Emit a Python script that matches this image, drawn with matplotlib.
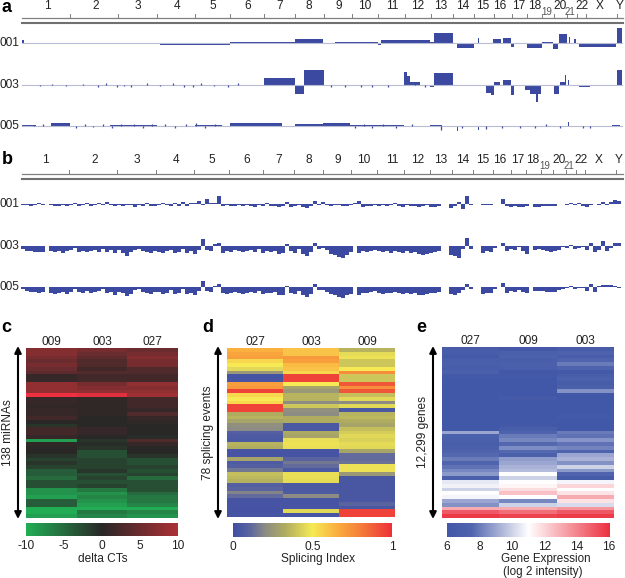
import numpy as np
from matplotlib import pyplot as plt
from matplotlib.colors import LinearSegmentedColormap

plt.rcParams['font.family'] = ['Liberation Sans', 'DejaVu Sans']

W, H = 625, 578

chroms = ['1', '2', '3', '4', '5', '6', '7', '8', '9', '10', '11', '12', '13', '14', '15', '16',
          '17', '18', '19', '20', '21', '22', 'X', 'Y']
chrom_ends = [70, 118, 157, 195, 230, 264, 295, 324, 352, 378, 405, 431, 453, 474, 494, 512,
              527, 542, 554, 567, 577, 586, 617]

# panel a, copy number segments
a001_edges = [22, 24, 26, 50, 70, 118, 130, 157, 160, 195, 222, 230, 264, 295, 323, 335, 352, 378, 381, 430,
              434, 453, 457, 474, 478, 479, 483, 493, 501, 503, 511, 514, 527, 542, 553, 558, 559, 567,
              569, 570, 574, 576, 579, 590, 616, 617, 622]
a001_vals = [3, -1, -1, -1, -1, -1, -1.3, -1, -1.7, -1.5, -2, 1, 1, 4, -1, 1.5, 1, -1.5, 3, 1,
             10, 0, -5, 0, 5, 0.5, 0.5, 4, 0, 5, -4, -1, -5, 1, -6, 0, 9, 0,
             6, 0, 4, 0, -4, -4, 0, 15]
a003_edges = [22, 30, 70, 110, 157, 195, 230, 250, 264, 295, 304, 324, 352, 378, 404, 407, 410, 420, 430, 434,
              453, 480, 486, 491, 494, 500, 503, 511, 514, 525, 530, 536, 538, 541, 554, 559, 560, 565, 566,
              568, 569, 579, 590, 610, 617, 622]
a003_vals = [-1, 0.5, -0.4, 0.5, -0.6, -0.6, 0.3, -0.8, 7, -9, 15, -0.6, -0.8, -0.7, 13, 9, 3, -0.6, -1.5, 12,
             -0.5, 0.5, -8, -10, 3, 0, 5, -10, -0.5, -5, -9, -17, -9, -1, -9, 0, 3, 10, 0,
             5, 0, -1.5, -0.6, -1, 15]
a005_edges = [22, 36, 51, 70, 110, 157, 195, 222, 230, 265, 282, 295, 323, 336, 350, 378, 404, 430, 442, 457,
              458, 478, 479, 527, 568, 569, 572, 600, 612, 620]
a005_vals = [1, 0.5, 3.5, -0.6, 0.7, -0.6, 0.6, 0.3, 3, 3, 0.3, 2.5, 3, 3, 0.6, 0.6, -0.4, 0.6, -0.8, -5,
             0.3, -4, -1, -0.5, 4, -0.5, 0.3, 0.5, 1.5]

# small specks along the panel a baselines
a003_spike_x = [40, 52, 66, 83, 98, 106, 117, 124, 131, 147, 160, 173, 184, 193, 201, 214, 228, 238, 331, 345, 361, 372, 388, 415, 425]
a003_spike_v = [-1, 1, -1, 1, -2, 2, -2, -1, -2, 2, -1, 2, -2, -2, 2, -1, -2, 2, -2, -2, -2, -2, -2, 2, -2]
a005_spike_x = [34, 43, 76, 85, 93, 103, 112, 121, 134, 143, 152, 165, 175, 186, 196, 205, 215, 355, 364, 372, 383, 396, 412, 441, 462, 486, 502, 520, 535, 546, 560, 583, 590]
a005_spike_v = [1, 2, -2, 2, -1, 2, -2, 2, 2, -2, 2, 2, -2, 2, 3, -2, 2, -2, 2, -2, 2, -2, 2, -4, -2, -3, -2, -2, -2, 2, -2, -2, -2]

# panel b, per-bin exon levels
b001 = [-1, -1, -2, -1, 1, -1, 0, -1, -2, -2, -1, -2, -1, 1, -2, -1, 1, -2, -1, 1, -1, 2, -1, -2, -1,
        -2, -1, -1, -3, -1, -2, 1, -2, -2, -1, 1, -1, -2, 1, -2, 2, -2, 1, 1, 3, -1, 5, 1, 1, 8,
        -2, -1, -2, -2, -1, -2, -1, -2, -3, -1, -2, 1, -2, -2, -3, -2, 2, -3, -2, -1, -3, -4, -2, 3, -1,
        2, -1, -2, -1, -1, -2, -2, -1, 1, 3, -3, -2, -2, -1, -2, -1, -2, -1, 1, -2, -3, -1, -2, -2, -3,
        -2, -1, -3, -3, -2, 0, 0, -4, -2, 2, -5, 8, -1, 0, 0, -1, -1, -1, 0, 0,
        5, -2, -3, -2, -3, -3, -2, 0, -3, -3, -2, -2, -2, -2, 0, 0, -1, 1, -1, 1,
        -2, -3, -1, 0, -1, 2, -1, 2, 4, 3]
b003 = [-3, -5, -5, -6, -6, -6, 0, -5, -6, -5, -7, -5, -4, -2, -6, -5, -6, -5, -4, -6, -3, -6, -4, -7, -4,
        -7, -10, -6, -4, -3, -5, -6, -7, -5, -6, -7, -5, -4, -7, -6, -3, -7, -5, -8, -4, 7, -4, -5, 2, 3,
        -7, -5, -6, -4, -5, -6, -5, -4, -6, -3, -7, -5, -6, -5, -8, -7, 2, -5, -7, -3, -8, -10, -6, 3, -3,
        -2, -4, -8, -9, -11, -12, -9, -6, 0, -7, -5, -6, -5, -4, -5, -6, -5, -7, -5, -6, -7, -5, -7, -6, -8,
        -9, -8, -7, -6, -5, 0, 0, -9, -10, -12, -3, 8, -3, 0, 0, -7, -5, -6, -2, 0,
        3, -5, -3, -4, -1, -5, -8, 0, -4, -3, -4, -5, -6, -5, -4, -1, -2, 1, -3, -2,
        -1, -4, 3, -6, -4, 5, -5, -2, 3, 3]
b005 = [-2, -4, -5, -5, -6, -5, 0, -6, -7, -6, -5, -7, -5, -2, -5, -6, -4, -6, -5, -4, -2, -6, -5, -8, -5,
        -6, -9, -7, -3, -2, -5, -6, -7, -5, -5, -7, -6, -3, -7, -6, -2, -7, -6, -8, -4, 6, -4, -5, 1, 3,
        -6, -7, -6, -5, -6, -7, -6, -5, -6, -4, -7, -6, -6, -5, -8, -8, 1, -6, -7, -4, -8, -10, -7, 3, -3,
        -3, -5, -7, -8, -10, -11, -8, -7, 0, -8, -6, -6, -5, -4, -6, -7, -6, -6, -5, -6, -7, -6, -7, -6, -8,
        -8, -7, -6, -6, -5, 0, 0, -7, -8, -6, -3, 3, -2, 0, 0, -7, -6, -6, -2, 0,
        4, -6, -4, -5, -3, -5, -6, 0, -4, -4, -4, -5, -5, -5, -3, -2, -1, 1, -2, -1,
        -1, -4, 3, -5, 1, 2, 2, 2, 1, -1]

# panel c, delta CTs
c_labels = ['009', '003', '027']
c_009 = [7, 7, 6, 5, 6, 5, 4, 1, 1, 8, 8, 8, 15, 1, 1, 0.5, 1, 1, 2, 0, -1, 2, 2, 1, -9, 0.5, 0, 0, -1, -2,
         -1, -2, -4, -4, -5, -3, -3, -8, -8, -9, -4, -4, -10, -10, -9]
c_003 = [6, 5, 4, 3, 3, 2, 3, 2, 2, 6, 7, 8, 14, 0.5, 0.5, 0.5, 0.5, 0.5, 0, 0, 0, 1, 1, 0, -1, -0.5, -1, -3,
         -3, -2, -2, -2, -1, -3, -2, -3, -2, -6, -8, -7, -8, -9, -10, -6, -7]
c_027 = [5, 6, 7, 6, 6, 3, 3, 2, 2, 8, 7, 8, 9, 2, 2, 2, 1, 3, 1, 0.5, 0, 0, 0, -0.5, 3, 1, 0, 0, -1, -3,
         -3, -2, -3, -2, -5, -3, -3, -3, -5, -6, -6, -7, -10, -7, -8]

# panel d, splicing index
d_labels = ['027', '003', '009']
d_027 = [.65, .68, .7, .55, .5, .45, .25, .02, .03, .7, .72, .95, .55, .5, .55, .95, .95, .33, .35, .3, .22, .2,
         .08, .06, .05, .35, .33, .03, .03, .3, .06, .08, .15, .38, .36, .34, .08, .1, .18, .12, .03, .03, .03, .02, .03]
d_003 = [.6, .6, .72, .7, .62, .6, .55, .95, .95, .5, .3, .25, .35, .35, .2, .4, .22, .2, .33, .33, .05, .05,
         .32, .3, .47, .48, .47, .03, .03, .1, .15, .12, .05, .47, .47, .46, .05, .05, .06, .2, .03, .03, .03, .45, .03]
d_009 = [.35, .46, .48, .4, .4, .5, .75, .4, .4, .9, .75, .9, .38, .45, .2, .45, .05, .35, .36, .33, .3, .38,
         .42, .45, .43, .46, .45, .3, .12, .12, .14, .48, .48, .25, .04, .04, .04, .04, .04, .04, .04, .1, .04, .95, .95]

# panel e, gene expression
e_labels = ['027', '009', '003']
e_027 = [6.7, 6.7, 6.3, 6.8, 6.9, 6.6, 7.0, 6.3, 6.1, 6.1, 6.1, 6.1, 6.1, 6.1, 6.1, 6.1, 6.1, 6.1, 6.1, 6.1, 6.1, 6.1,
         9, 7.2, 7, 6.8, 7, 7.4, 7.6, 8, 7.5, 7.8, 8.3, 8.7, 7, 10.5, 10.7, 10, 11, 10.8, 9, 8.5, 13, 15, 15.8]
e_009 = [6.2, 7, 7.2, 6.8, 7, 6.9, 6.2, 6.3, 6.1, 6.1, 6.1, 6.1, 6.1, 6.4, 6.1, 6.1, 6.1, 6.1, 6.1, 6.1, 6.2, 6.8,
         7.3, 8, 8.3, 7.6, 8.4, 7.6, 7, 8.8, 9, 9.3, 9.5, 11, 10, 11, 11.2, 11.8, 12.5, 11, 8.3, 10, 13, 14.5, 15.5]
e_003 = [6.7, 7.2, 6.6, 7.5, 8, 7.3, 6.3, 6.8, 7.1, 6.6, 7, 8.5, 6.1, 6.1, 6.1, 6.1, 6.1, 6.1, 6.3, 6.1, 6.1, 6.1,
         8, 7.8, 8.6, 7.8, 8.2, 7.3, 9, 9.3, 8.5, 10, 8.7, 7.5, 6.5, 10.8, 12, 11, 11.6, 13, 11.7, 10.2, 13.5, 15, 15.7]

BLUE = '#3b4aa0'
GREY = '#808080'

cmap_c = LinearSegmentedColormap.from_list('c', [(0, '#22ad55'), (0.4, '#2a2727'), (0.8, '#ab3136'), (1, '#ee3040')])
cmap_d = LinearSegmentedColormap.from_list('d', [(0, '#3f4fa5'), (0.1, '#5a64a0'), (0.2, '#8c8c85'), (0.33, '#b0ad60'),
                                                 (0.5, '#f6ea55'), (0.65, '#fbb040'), (0.8, '#f47f3a'), (1, '#ee3038')])
cmap_e = LinearSegmentedColormap.from_list('e', [(0, '#4158a8'), (0.15, '#5165ae'), (0.5, '#ffffff'), (1, '#ec3040')])


def px_axes(fig, x0, y0, x1, y1):
    ax = fig.add_axes([x0 / W, 1 - y1 / H, (x1 - x0) / W, (y1 - y0) / H])
    return ax


fig = plt.figure(figsize=(W / 100, H / 100), dpi=100)
page = px_axes(fig, 0, 0, W, H)
page.set_xlim(0, W)
page.set_ylim(H, 0)
page.axis('off')

# chromosome rulers
label_x = [[47, 96, 138, 177, 213, 248, 280, 309, 339, 365, 392, 418, 441, 463, 483, 500, 519, 535, 547, 560, 570, 582, 600, 620],
           [45, 95, 137, 176, 212, 247, 279, 309, 338, 364, 392, 418, 441, 463, 483, 500, 518, 533, 545, 559, 569, 581, 599, 619]]
for k, (y_text, y_line, shift) in enumerate([(6, 18, 0), (160, 174, -1)]):
    page.plot([22, 623], [y_line, y_line], color=GREY, lw=0.9)
    page.plot([22, 623], [y_line + 5, y_line + 5], color='#707070', lw=1.5)
    for c in chrom_ends:
        page.plot([c + shift, c + shift], [y_line - 4, y_line], color=GREY, lw=0.7)
    for name, x in zip(chroms, label_x[k]):
        small = name in ('19', '21')
        page.text(x, y_text + (6 if small else 0), name, ha='center', va='center', fontsize=7 if small else 8.6,
                  color='#555555' if small else '#222222')

# panel a tracks
for base, edges, vals, sx, sv, name in [(43, a001_edges, a001_vals, [], [], '001'),
                                        (85, a003_edges, a003_vals, a003_spike_x, a003_spike_v, '003'),
                                        (126, a005_edges, a005_vals, a005_spike_x, a005_spike_v, '005')]:
    ax = px_axes(fig, 0, base - 20, W, base + 20)
    ax.set_xlim(0, W)
    ax.set_ylim(-20, 20)
    ax.axis('off')
    ax.plot([22, 622], [0, 0], color='#b9bcd6', lw=0.8)
    ax.stairs(vals, edges, fill=True, baseline=0, color=BLUE)
    ax.vlines(sx, 0, sv, color=BLUE, lw=0.9)
    page.text(19, base, name, ha='right', va='center', fontsize=8.6, color='#222222')

# panel b tracks
for base, vals, name in [(204, b001, '001'), (246, b003, '003'), (287, b005, '005')]:
    ax = px_axes(fig, 0, base - 20, W, base + 20)
    ax.set_xlim(0, W)
    ax.set_ylim(-20, 20)
    ax.axis('off')
    edges = 21 + 4 * np.arange(len(vals) + 1)
    ax.bar(edges[:-1] + 2, vals, width=3.5, color=BLUE, linewidth=0)
    ax.stairs(np.clip(vals, -4, 0), edges, fill=True, baseline=0, color=BLUE)
    page.text(19, base, name, ha='right', va='center', fontsize=8.6, color='#222222')

# heatmaps
panels = [
    ((26, 348, 178, 518), np.array([c_009, c_003, c_027]).T, c_labels, cmap_c, -10, 15),
    ((227, 348, 395, 517), np.array([d_027, d_003, d_009]).T, d_labels, cmap_d, 0, 1),
    ((442, 347, 614, 518), np.array([e_027, e_009, e_003]).T, e_labels, cmap_e, 6, 16),
]
for box, grid, labels, cmap, lo, hi in panels:
    ax = px_axes(fig, *box)
    ax.imshow(grid, aspect='auto', cmap=cmap, vmin=lo, vmax=hi, interpolation='nearest')
    ax.set_xticks(range(3))
    ax.set_xticklabels(labels, fontsize=8.6, color='#222222')
    ax.xaxis.tick_top()
    ax.tick_params(length=0, pad=0)
    ax.set_yticks([])
    for s in ax.spines.values():
        s.set_visible(False)

# colour bars
bars = [((26, 523, 178, 536), cmap_c, -10, 10, -10, 15, [-10, -5, 0, 5, 10], ['-10', '-5', '0', '5', '10']),
        ((233, 523, 392, 537), cmap_d, 0, 1, 0, 1, [0, 0.5, 1], ['0', '0.5', '1']),
        ((447, 523, 609, 537), cmap_e, 6, 16, 6, 16, [6, 8, 10, 12, 14, 16], ['6', '8', '10', '12', '14', '16'])]
for box, cmap, v0, v1, lo, hi, ticks, ticklabels in bars:
    ax = px_axes(fig, *box)
    ramp = np.linspace(v0, v1, 256).reshape(1, -1)
    ax.imshow(ramp, aspect='auto', cmap=cmap, vmin=lo, vmax=hi, extent=[v0, v1, 0, 1])
    ax.set_xticks(ticks)
    ax.set_xticklabels(ticklabels, fontsize=8.6, color='#222222')
    ax.tick_params(length=0, pad=3)
    ax.set_yticks([])
    for s in ax.spines.values():
        s.set_visible(False)

page.text(103, 559, 'delta CTs', ha='center', va='center', fontsize=8.6, color='#222222')
page.text(318, 559, 'Splicing Index', ha='center', va='center', fontsize=8.6, color='#222222')
page.text(546, 559, 'Gene Expression', ha='center', va='center', fontsize=8.4, color='#222222')
page.text(543, 572, '(log 2 intensity)', ha='center', va='center', fontsize=8.4, color='#222222')

# double arrows and row counts
for x, y_text, text, x_text in [(18, 433, '138 miRNAs', 8), (218, 433, '78 splicing events', 208), (433, 432, '12,299 genes', 423)]:
    page.annotate('', xy=(x, 346), xytext=(x, 519), arrowprops=dict(arrowstyle='<|-|>', color='k', lw=1.5, mutation_scale=10, shrinkA=0, shrinkB=0))
    page.text(x_text, y_text, text, rotation=90, ha='center', va='center', fontsize=8.6, color='#222222')

for name, x, y in [('a', 7, 7), ('b', 7, 160), ('c', 6, 327), ('d', 208, 327), ('e', 421, 327)]:
    page.text(x, y, name, ha='center', va='center', fontsize=13, fontweight='bold', color='k')

fig.savefig('out.png', dpi=100)
